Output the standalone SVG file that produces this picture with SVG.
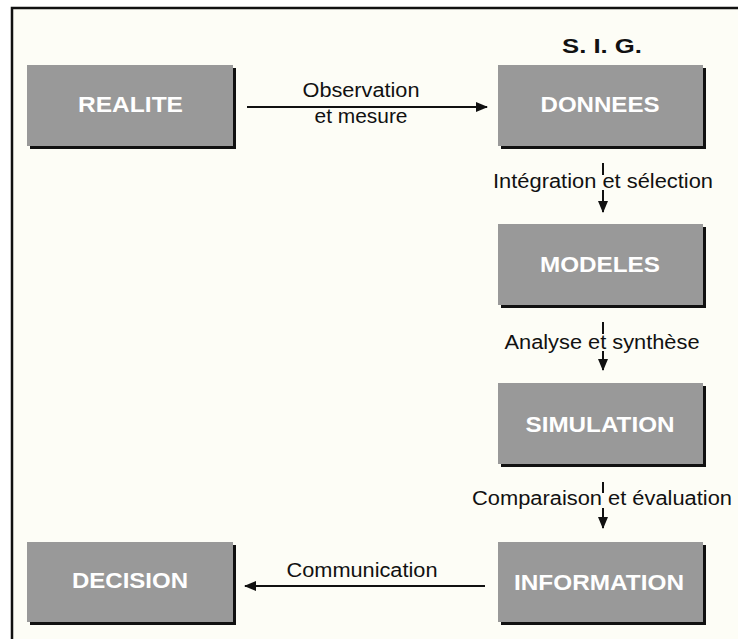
<svg xmlns="http://www.w3.org/2000/svg" width="738" height="639" viewBox="0 0 738 639">
<style>
.box{fill:#999999}
.sh{fill:#111111}
.bt{font-family:"Liberation Sans",Arial,sans-serif;font-weight:bold;font-size:22px;fill:#ffffff;text-anchor:middle}
.lt{font-family:"Liberation Sans",Arial,sans-serif;font-size:20px;fill:#111111;text-anchor:middle}
.ln{stroke:#111111;stroke-width:2;fill:none}
</style>
<defs>
<marker id="ah" markerWidth="12" markerHeight="10" refX="11" refY="5" orient="auto" markerUnits="userSpaceOnUse">
<path d="M0,0 L12,5 L0,10 Z" fill="#111111"/>
</marker>
</defs>
<rect x="0" y="0" width="738" height="639" fill="#ffffff"/>
<rect x="12" y="8" width="726" height="631" fill="#fdfdf6"/>
<path d="M12,639 L12,8 L738,8" stroke="#111111" stroke-width="2.5" fill="none"/>
<text class="lt" x="602" y="53" style="font-weight:bold;font-size:21px" textLength="80" lengthAdjust="spacingAndGlyphs">S. I. G.</text>
<g id="connectors">
<line class="ln" x1="247" y1="107" x2="487" y2="107" marker-end="url(#ah)"/>
<line class="ln" x1="603" y1="163" x2="603" y2="175"/>
<line class="ln" x1="603" y1="190" x2="603" y2="212" marker-end="url(#ah)"/>
<line class="ln" x1="603" y1="322" x2="603" y2="334"/>
<line class="ln" x1="603" y1="351" x2="603" y2="370" marker-end="url(#ah)"/>
<line class="ln" x1="603" y1="482" x2="603" y2="493"/>
<line class="ln" x1="603" y1="508" x2="603" y2="528" marker-end="url(#ah)"/>
<line class="ln" x1="485" y1="586" x2="245" y2="586" marker-end="url(#ah)"/>
<text class="lt" x="361" y="97" textLength="117" lengthAdjust="spacingAndGlyphs">Observation</text>
<text class="lt" x="361" y="123" textLength="93" lengthAdjust="spacingAndGlyphs">et mesure</text>
<text class="lt" x="603" y="188" textLength="220" lengthAdjust="spacingAndGlyphs">Intégration et sélection</text>
<text class="lt" x="602" y="349" textLength="195" lengthAdjust="spacingAndGlyphs">Analyse et synthèse</text>
<text class="lt" x="602" y="505" textLength="260" lengthAdjust="spacingAndGlyphs">Comparaison et évaluation</text>
<text class="lt" x="362" y="577" textLength="151" lengthAdjust="spacingAndGlyphs">Communication</text>
</g>
<g id="realite">
<rect class="sh" x="30" y="68" width="206" height="81"/>
<rect class="box" x="27" y="65" width="206" height="81"/>
<text class="bt" x="130.5" y="112" textLength="105" lengthAdjust="spacingAndGlyphs">REALITE</text>
</g>
<g id="donnees">
<rect class="sh" x="501" y="68" width="205" height="81"/>
<rect class="box" x="498" y="65" width="205" height="81"/>
<text class="bt" x="600" y="112" textLength="119" lengthAdjust="spacingAndGlyphs">DONNEES</text>
</g>
<g id="modeles">
<rect class="sh" x="501" y="227" width="205" height="81"/>
<rect class="box" x="498" y="224" width="205" height="81"/>
<text class="bt" x="600" y="272" textLength="120" lengthAdjust="spacingAndGlyphs">MODELES</text>
</g>
<g id="simulation">
<rect class="sh" x="501" y="386" width="205" height="81"/>
<rect class="box" x="498" y="383" width="205" height="81"/>
<text class="bt" x="600" y="432" textLength="149" lengthAdjust="spacingAndGlyphs">SIMULATION</text>
</g>
<g id="information">
<rect class="sh" x="501" y="545" width="205" height="80"/>
<rect class="box" x="498" y="542" width="205" height="80"/>
<text class="bt" x="599" y="590" textLength="170" lengthAdjust="spacingAndGlyphs">INFORMATION</text>
</g>
<g id="decision">
<rect class="sh" x="30" y="545" width="206" height="80"/>
<rect class="box" x="27" y="542" width="206" height="80"/>
<text class="bt" x="130" y="588" textLength="116" lengthAdjust="spacingAndGlyphs">DECISION</text>
</g>
</svg>
